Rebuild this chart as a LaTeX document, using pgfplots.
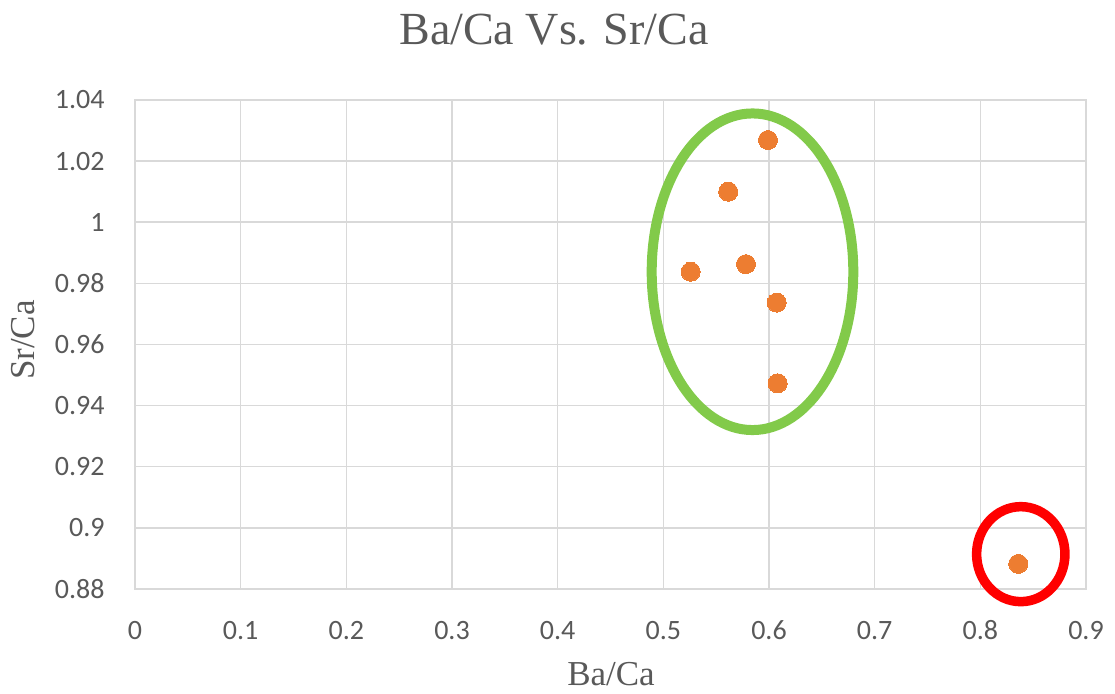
\documentclass[border=0pt]{standalone}
\usepackage{pgfplots}
\pgfplotsset{compat=1.18}
\usepackage{fontspec}
\setmainfont{Liberation Serif}
\newfontfamily\calibri{Carlito}
\definecolor{gridc}{HTML}{D9D9D9}
\definecolor{txtc}{HTML}{595959}
\definecolor{orangec}{HTML}{ED7D31}
\definecolor{greenc}{RGB}{130,202,74}
\begin{document}
\begin{tikzpicture}
\begin{axis}[
  scale only axis,
  width=475.5pt, height=244.5pt,
  at={(0pt,0pt)}, anchor=origin,
  xmin=0, xmax=0.9, ymin=0.88, ymax=1.04,
  xtick={0,0.1,...,0.9},
  xticklabels={0,0.1,0.2,0.3,0.4,0.5,0.6,0.7,0.8,0.9},
  ytick={0.88,0.9,0.92,0.94,0.96,0.98,1,1.02,1.04},
  yticklabels={0.88,0.9,0.92,0.94,0.96,0.98,1,1.02,1.04},
  grid=major,
  major grid style={gridc, line width=0.75pt},
  axis line style={gridc, line width=0.75pt},
  major tick length=0pt,
  tick label style={font=\calibri\fontsize{14}{16}\selectfont, text=txtc, inner sep=0pt},
  xticklabel style={anchor=base, yshift=-25.5pt},
  yticklabel style={anchor=east, xshift=-15pt},
  clip=false,
]
\addplot[only marks, color=orangec, mark=*, mark size=4.75pt, mark options={fill=orangec, draw=orangec, line width=0pt}] coordinates {
  (0.599,1.0269)
  (0.5614,1.010)
  (0.5259,0.9838)
  (0.5782,0.9863)
  (0.6073,0.9737)
  (0.6082,0.9473)
  (0.8359,0.8882)
};
\draw[greenc, line width=5pt] (axis cs:0.5844,0.9838) ellipse [x radius=0.0954, y radius=0.0518];
\draw[red, line width=4.75pt] (axis cs:0.8383,0.8914) ellipse [x radius=0.0418, y radius=0.01554];
\end{axis}
\node[anchor=base, text=txtc, font=\fontsize{23}{26}\selectfont, inner sep=0pt] at (209.5pt,272pt) {Ba/Ca Vs. Sr/Ca};
\node[anchor=base, text=txtc, font=\fontsize{17.5}{20}\selectfont, inner sep=0pt] at (238pt,-48.5pt) {Ba/Ca};
\node[anchor=base, rotate=90, text=txtc, font=\fontsize{17.5}{20}\selectfont, inner sep=0pt] at (-50pt,124.5pt) {Sr/Ca};
\path[use as bounding box] (-67.5pt,-52.5pt) rectangle (490pt,294.5pt);
\end{tikzpicture}
\end{document}
